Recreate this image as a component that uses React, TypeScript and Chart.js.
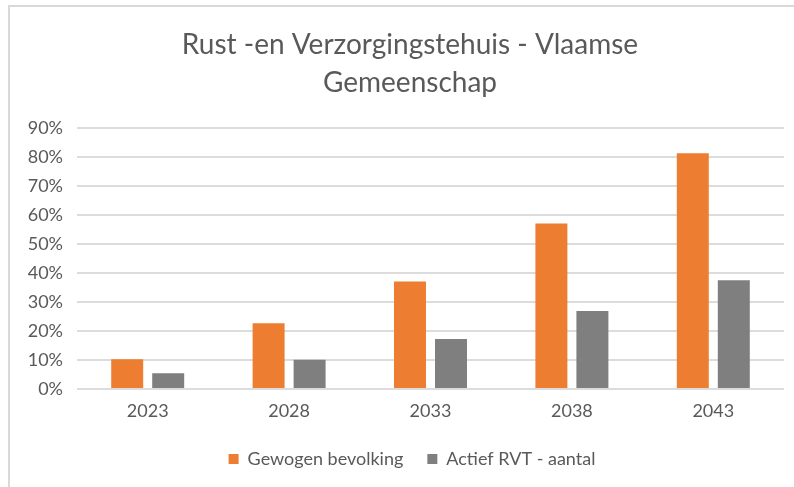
import React, { useEffect, useRef } from "react";
import { Chart, registerables } from "chart.js";

Chart.register(...registerables);

const titleLines = ["Rust -en Verzorgingstehuis - Vlaamse", "Gemeenschap"];
const categories = ["2023", "2028", "2033", "2038", "2043"];
const gewogenBevolking = [10.3, 22.7, 37.1, 57.1, 81.3];
const actiefRvt = [5.4, 10.1, 17.2, 26.9, 37.5];
const seriesNames = ["Gewogen bevolking", "Actief RVT - aantal"];
const yMin = 0;
const yMax = 90;
const yStep = 10;

const FONT = "Lato, 'Open Sans', sans-serif";
const TEXT = "#595959";

// Shift title / legend boxes horizontally so they center like the original
const centerShift = {
  id: "centerShift",
  afterLayout(chart: any) {
    const tb = chart.titleBlock;
    if (tb) {
      tb.left += 14;
      tb.right += 14;
    }
    const lg = chart.legend;
    if (lg) {
      lg.left += 16;
      lg.right += 16;
    }
  },
};

export default function App() {
  const ref = useRef<HTMLCanvasElement | null>(null);

  useEffect(() => {
    if (!ref.current) return;
    const chart = new Chart(ref.current, {
      type: "bar",
      data: {
        labels: categories,
        datasets: [
          {
            label: seriesNames[0],
            data: gewogenBevolking,
            backgroundColor: "#ED7D31",
            borderWidth: 0,
            categoryPercentage: 0.58,
            barPercentage: 0.78,
          },
          {
            label: seriesNames[1],
            data: actiefRvt,
            backgroundColor: "#7F7F7F",
            borderWidth: 0,
            categoryPercentage: 0.58,
            barPercentage: 0.78,
          },
        ],
      },
      plugins: [centerShift],
      options: {
        animation: false,
        responsive: false,
        devicePixelRatio: 1,
        layout: { padding: { left: 0, right: 28, top: 0, bottom: 9 } },
        plugins: {
          title: {
            display: true,
            text: titleLines,
            color: TEXT,
            font: { family: FONT, size: 28, weight: "normal", lineHeight: 1.357 },
            padding: { top: 26, bottom: 26 },
          },
          legend: {
            display: true,
            position: "bottom",
            labels: {
              color: TEXT,
              font: { family: FONT, size: 18 },
              boxWidth: 10,
              boxHeight: 10,
              padding: 24,
            },
          },
          tooltip: { enabled: false },
        },
        scales: {
          x: {
            grid: { display: false, drawTicks: false },
            border: { display: false },
            ticks: { color: TEXT, font: { family: FONT, size: 18 }, padding: 11 },
            afterFit: (s: any) => {
              s.height = 37;
            },
          },
          y: {
            min: yMin,
            max: yMax,
            ticks: {
              stepSize: yStep,
              color: TEXT,
              font: { family: FONT, size: 18 },
              padding: 14,
              callback: (v: any) => v + "%",
            },
            grid: { color: "#DCDCDC", lineWidth: 2, drawTicks: false },
            border: { display: false },
            afterFit: (s: any) => {
              s.width = 69;
            },
          },
        },
      },
    });
    return () => chart.destroy();
  }, []);

  return (
    <div
      style={{
        position: "fixed",
        left: 0,
        top: 0,
        width: 794,
        height: 487,
        overflow: "hidden",
        background: "#fff",
      }}
    >
      <div
        style={{
          position: "absolute",
          left: 8,
          top: 5,
          width: 900,
          height: 600,
          borderTop: "2px solid #D9D9D9",
          borderLeft: "2px solid #D9D9D9",
        }}
      />
      <canvas
        ref={ref}
        width={804}
        height={487}
        style={{ position: "absolute", left: 8, top: 0, width: 804, height: 487 }}
      />
    </div>
  );
}
